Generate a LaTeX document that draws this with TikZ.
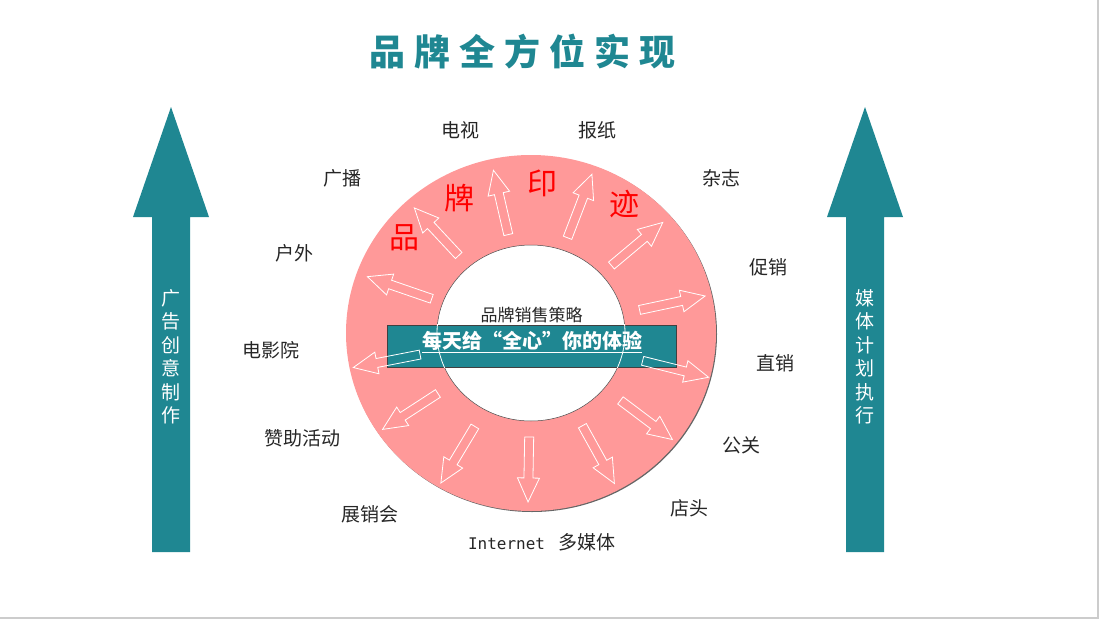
\documentclass[tikz,border=0pt]{standalone}
\usepackage{fontspec}
\setmainfont{Noto Sans CJK SC}
\newfontfamily\latinmono{DejaVu Sans Mono}
\usetikzlibrary{positioning}
\definecolor{brandteal}{RGB}{31,135,146}
\definecolor{ringpink}{RGB}{255,153,153}
\tikzset{
  media/.style={font=\fontsize{19}{19}\selectfont, text=black!85},
  redchar/.style={font=\fontsize{30}{30}\selectfont, text=red},
  outarrow/.style={draw=white, line width=0.8pt},
  vertlabel/.style={text=white, align=center, font=\fontsize{19}{23.5}\selectfont},
}
\begin{document}
\begin{tikzpicture}[x=1pt, y=-1pt]
\useasboundingbox (0,0) rectangle (1100,621);
\draw[black!20, line width=2pt] (1098,0) -- (1098,618) -- (0,618);
\node (title) at (522,52) {\fontsize{36}{36}\selectfont\bfseries\color{brandteal}品\hspace{9pt}牌\hspace{9pt}全\hspace{9pt}方\hspace{9pt}位\hspace{9pt}实\hspace{9pt}现};
% the two big arrows
\foreach \cx in {171,865}
  \fill[brandteal] (\cx-19,552) -- (\cx-19,217) -- (\cx-38,217) -- (\cx,107) -- (\cx+38,217) -- (\cx+19,217) -- (\cx+19,552) -- cycle;
\node (adcreate) [vertlabel] at (171,357) {广\\告\\创\\意\\制\\作};
\node (mediaplan) [vertlabel] at (865,357) {媒\\体\\计\\划\\执\\行};
% ring
\fill[black!60] (532,334) ellipse [x radius=185, y radius=178];
\fill[ringpink] (531,333) ellipse [x radius=185, y radius=178];
\fill[white] (531,333) ellipse [x radius=94, y radius=88];
\draw[black!70, line width=0.5pt] (531,333) ellipse [x radius=94, y radius=88];
\node (slogan) [draw=black!75, fill=brandteal, minimum width=289pt, minimum height=42pt, inner sep=0pt] at (531.5,346) {};
\begin{scope}
\clip (slogan.south west) rectangle (slogan.north east);
\draw[white, line width=0.8pt] (531,333) ellipse [x radius=94, y radius=88];
\end{scope}
\node (slogantext) at (532,342) {\fontsize{20}{20}\selectfont\bfseries\color{white}\underline{每天给{\addfontfeature{RawFeature=+fwid}“}全心{\addfontfeature{RawFeature=+fwid}”}你的体验}};
\node (strategy) [above=-2pt of slogan, text=black!85, font=\fontsize{17}{17}\selectfont] {品牌销售策略};
% arrows pointing out
\foreach \a/\ra/\rb in {133/106/171, 103/101/167, 69/102/170, 40/105/172, 12/111/178, -14/115/183, -37/112/177, -61/106/172, -91/104/169, -121/109/175, -147/111/177, -169/113/181, 161/105/173}
  \draw[outarrow, shift={(531,333)}, rotate=\a] (\ra,-4.5) -- (\rb-24,-4.5) -- (\rb-24,-11) -- (\rb,0) -- (\rb-24,11) -- (\rb-24,4.5) -- (\ra,4.5) -- cycle;
\node (pin) [redchar] at (404,238) {品};
\node (pai) [redchar] at (459,198) {牌};
\node (yin) [redchar] at (542,183) {印};
\node (ji) [redchar] at (624,204) {迹};
% media around the ring
\node (tv) [media] at (460,130) {电视};
\node (paper) [media] at (597,130) {报纸};
\node (magazine) [media] at (721,178) {杂志};
\node (promo) [media] at (768,267) {促销};
\node (direct) [media] at (775,363) {直销};
\node (pr) [media] at (741,445) {公关};
\node (store) [media] at (689,508) {店头};
\node (internet) [media] at (542,542) {{\latinmono\fontsize{16}{16}\selectfont Internet\ } 多媒体};
\node (expo) [media] at (370,514) {展销会};
\node (sponsor) [media] at (302,438) {赞助活动};
\node (cinema) [media] at (271,350) {电影院};
\node (outdoor) [media] at (294,253) {户外};
\node (radio) [media] at (342,178) {广播};
\end{tikzpicture}
\end{document}
